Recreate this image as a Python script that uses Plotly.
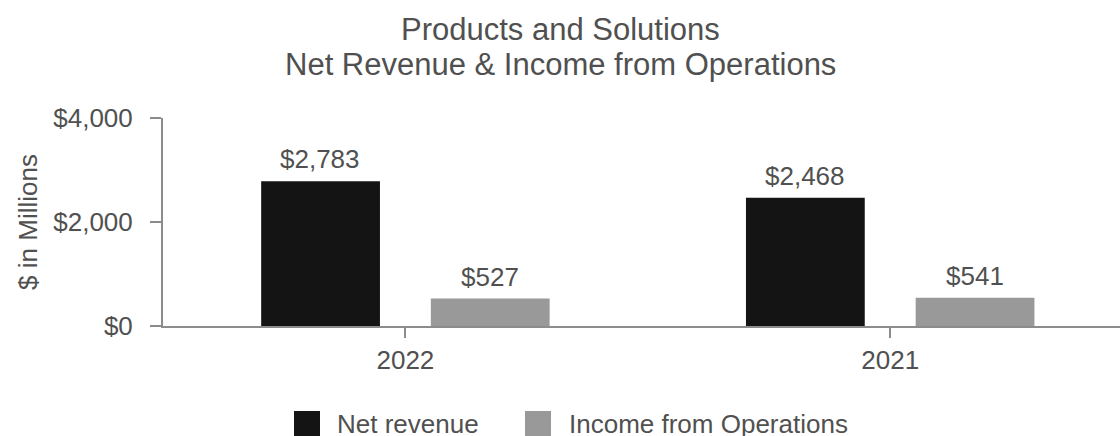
import plotly.graph_objects as go

years = ["2022", "2021"]
net_revenue = [2783, 2468]
income_ops = [527, 541]
series_names = ["Net revenue", "Income from Operations"]
series_colors = ["#141414", "#999999"]
tick_vals = [0, 2000, 4000]
tick_text = ["$0", "$2,000", "$4,000"]
title_lines = ["Products and Solutions", "Net Revenue & Income from Operations"]

FONT = "Liberation Sans, Arial, sans-serif"
TXT = "#505050"
FS = 26

# plot area in pixels (for placing the hand-drawn legend and title)
L, T, W, H = 163, 118, 957, 208


def px_x(px):
    return (px - L) / W


def px_y(py):
    return (T + H - py) / H


fig = go.Figure()
series = [net_revenue, income_ops]
offsets = [-85, 85]
for name, vals, color, dx in zip(series_names, series, series_colors, offsets):
    fig.add_trace(go.Bar(
        x=years, y=vals, name=name, showlegend=False,
        marker=dict(color=color, line=dict(width=0)),
    ))
    for i, v in enumerate(vals):
        fig.add_annotation(
            x=i, y=v, xref="x", yref="y", text=f"${v:,}", showarrow=False,
            xanchor="center", yanchor="bottom", xshift=dx, yshift=5,
            font=dict(size=FS, color=TXT, family=FONT),
        )

# title: two lines with tighter spacing than plotly's default
for line, cy in zip(title_lines, [29, 64]):
    fig.add_annotation(x=px_x(560), y=px_y(cy), xref="paper", yref="paper",
                       text=line, showarrow=False, xanchor="center", yanchor="middle",
                       font=dict(size=31, color=TXT, family=FONT))

# legend drawn by hand to match the large square swatches
leg_sq = [(294, 320), (525, 551)]
leg_tx = [335, 567]
for name, color, (x0, x1), tx in zip(series_names, series_colors, leg_sq, leg_tx):
    fig.add_shape(type="rect", xref="paper", yref="paper",
                  x0=px_x(x0), x1=px_x(x1), y0=px_y(436), y1=px_y(411),
                  fillcolor=color, line=dict(width=0), layer="above")
    fig.add_annotation(x=px_x(tx), y=px_y(424), xref="paper", yref="paper",
                       text=name, showarrow=False, xanchor="left", yanchor="middle",
                       font=dict(size=FS, color=TXT, family=FONT))

fig.update_layout(
    width=1120, height=436,
    margin=dict(l=L, r=1120 - L - W, t=T, b=436 - T - H, autoexpand=False),
    paper_bgcolor="white", plot_bgcolor="white",
    font=dict(family=FONT, size=FS, color=TXT),
    barmode="group", bargap=0.3, bargroupgap=0.3,
    showlegend=False,
    xaxis=dict(
        type="category",
        range=[-0.5, 1.474], showline=True, linecolor="#8c8c8c", linewidth=2,
        ticks="outside", ticklen=10, tickcolor="#8c8c8c", tickwidth=2,
        tickfont=dict(size=FS, color=TXT), showgrid=False, zeroline=False,
    ),
    yaxis=dict(
        range=[0, 4000], tickvals=tick_vals, ticktext=tick_text,
        showline=True, linecolor="#8c8c8c", linewidth=2,
        ticks="outside", ticklen=11, tickcolor="#8c8c8c", tickwidth=2,
        ticklabelstandoff=12,
        tickfont=dict(size=FS, color=TXT), showgrid=False, zeroline=False,
        title=dict(text="$ in Millions", font=dict(size=FS, color=TXT), standoff=8),
    ),
)

fig.write_html("out.html", config={"displayModeBar": False},
               post_script="document.body.style.margin='0';")
